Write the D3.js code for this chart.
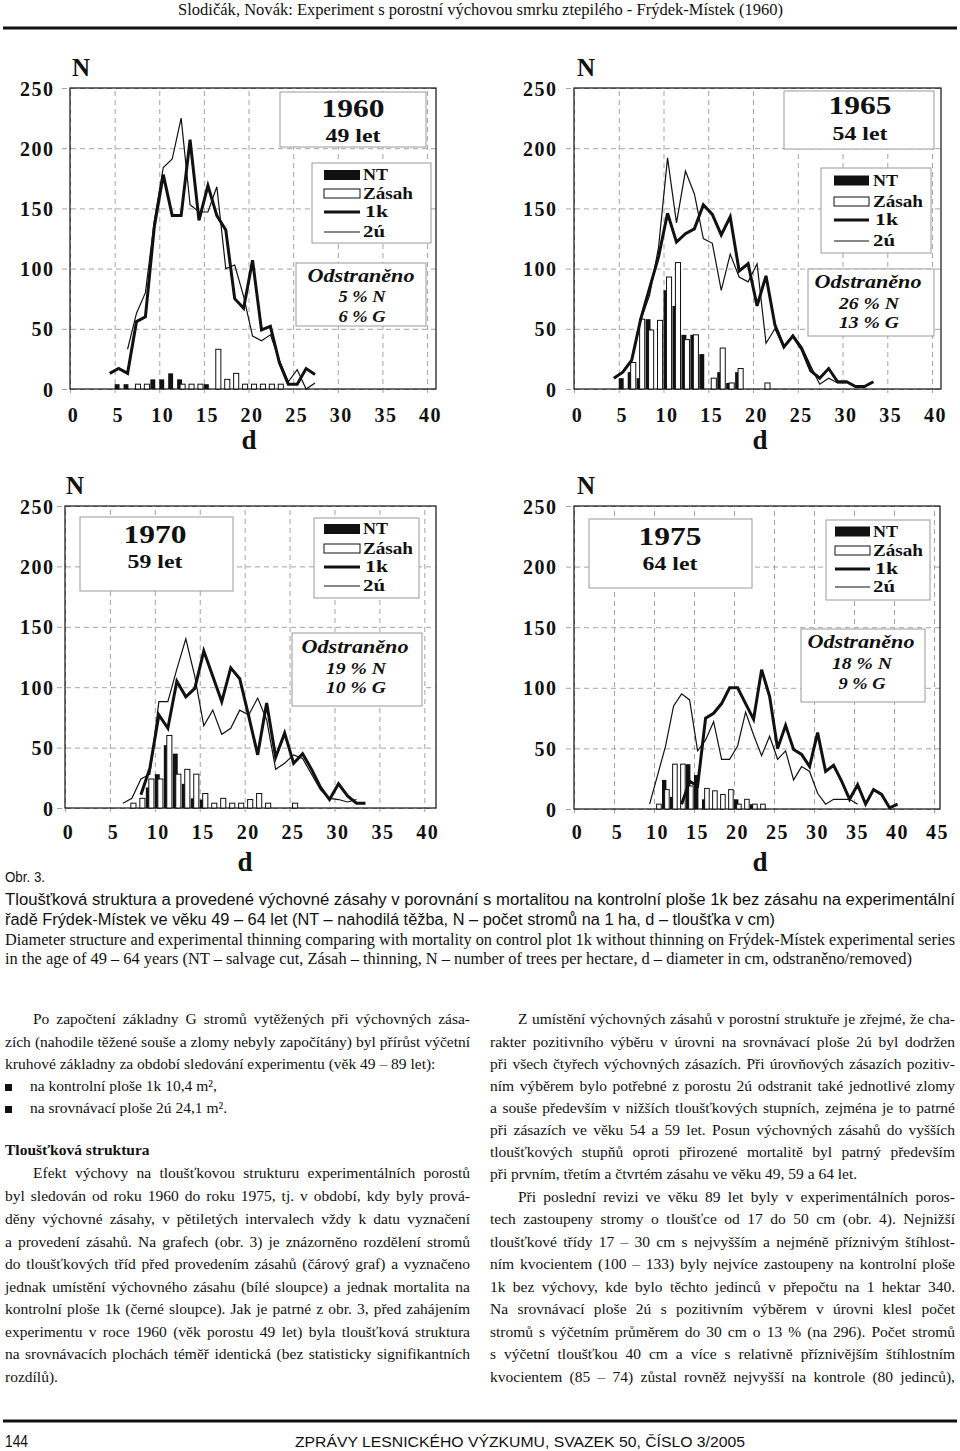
<!DOCTYPE html>
<html><head><meta charset="utf-8">
<script src="https://cdn.jsdelivr.net/npm/d3@7"></script>
<style>body{margin:0;background:#fff}svg{display:block}</style>
</head><body>
<svg id="c" width="960" height="1451"></svg>
<script>
// ---------------- DATA ----------------
const yTicks = [0, 50, 100, 150, 200, 250];
const xTicks40 = [0, 5, 10, 15, 20, 25, 30, 35, 40];
const xTicks45 = [0, 5, 10, 15, 20, 25, 30, 35, 40, 45];

// 1960 (49 let)
const d1k_1960 = [4,5,6,7,8,9,10,11,12,13,14,15,16,17,18,19,20,21,22,23,24,25,26,27];
const n1k_1960 = [13,17,13,56,60,135,178,144,144,207,140,169,144,132,75,67,107,49,52,22,4,4,17,12];
const d2u_1960 = [6,7,8,9,10,11,12,13,14,15,16,17,18,19,20,21,22,23,24,25,26,27];
const n2u_1960 = [33,63,80,140,184,191,225,153,147,147,168,100,103,77,44,40,45,24,6,16,0,5];
const dNT_1960 = [5,6,9,10,11,12,15];
const nNT_1960 = [4,4,8,8,13,8,4];
const dZ_1960 = [7,8,12,13,14,16,17,18,19,20,21,22,23];
const nZ_1960 = [4,4,4,4,4,33,8,13,4,4,4,4,4];

// 1965 (54 let)
const d1k_1965 = [4,5,6,7,8,9,10,11,12,13,14,15,16,17,18,19,20,21,22,23,24,25,26,27,28,29,30,31,32,33];
const n1k_1965 = [9,14,24,58,84,110,146,122,129,133,153,145,128,143,98,104,69,94,53,35,44,33,15,9,17,6,6,2,2,6];
const d2u_1965 = [6,7,8,9,10,11,12,13,14,15,16,17,18,19,20,21,22,23,24,25,26,27,28,29,30];
const n2u_1965 = [25,57,78,118,192,138,181,162,125,121,82,112,93,89,104,38,50,34,45,35,19,4,9,5,5];
const dNT_1965 = [5,6,7,8,10,11,12,13,14,16,17,18];
const nNT_1965 = [9,14,9,58,82,69,45,45,29,14,5,14];
const dZ_1965 = [6,7,8,9,10,11,12,13,15,16,17,18,21];
const nZ_1965 = [22,58,49,57,93,105,41,45,9,34,5,17,5];

// 1970 (59 let)
const d1k_1970 = [8,9,10,11,12,13,14,15,16,17,18,19,20,21,22,23,24,25,26,27,28,29,30,31,32,33];
const n1k_1970 = [11,33,77,66,105,92,99,130,109,88,116,107,76,44,87,42,62,37,45,32,17,7,20,10,4,4];
const d2u_1970 = [6,7,8,9,10,11,12,13,14,15,16,17,18,19,20,21,22,23,24,25,26,27,28,29,30,31,32];
const n2u_1970 = [4,8,24,28,88,88,115,140,109,68,81,61,66,81,77,91,73,32,37,44,41,28,15,8,7,5,7];
const dNT_1970 = [9,10,11,12,13,14,15];
const nNT_1970 = [17,28,52,45,20,8,7];
const dZ_1970 = [7,8,9,10,11,12,13,14,15,16,17,18,19,20,21,22,25];
const nZ_1970 = [4,8,24,24,60,28,32,28,12,4,8,4,4,7,12,4,4];

// 1975 (64 let)
const d1k_1975 = [13,14,15,16,17,18,19,20,21,22,23,24,25,26,27,28,29,30,31,32,33,34,35,36,37,38,39,40];
const n1k_1975 = [4,23,19,75,79,87,100,100,87,74,115,93,50,69,49,45,35,63,31,36,23,8,20,4,16,12,1,4];
const d2u_1975 = [9,10,11,12,13,14,15,16,17,18,19,20,21,22,23,24,25,26,27,28,29,30,31,32,33,34,35];
const n2u_1975 = [4,28,52,85,95,90,48,57,72,41,41,52,80,61,44,60,41,48,24,35,31,13,4,8,8,8,4];
const dNT_1975 = [11,12,14,15,16,20,22];
const nNT_1975 = [24,10,37,28,8,8,4];
const dZ_1975 = [10,11,12,13,14,16,17,18,19,20,21,22,23];
const nZ_1975 = [4,16,37,37,19,17,15,12,16,4,8,4,4];

const years = ["1960", "1965", "1970", "1975"];
const ages = ["49 let", "54 let", "59 let", "64 let"];
const removedN = ["5 % N", "26 % N", "19 % N", "18 % N"];
const removedG = ["6 % G", "13 % G", "10 % G", "9 % G"];
const legendLabels = ["NT", "Zásah", "1k", "2ú"];

// ---------------- HELPERS ----------------
const svg = d3.select('#c');
const SERIF = "'Liberation Serif','Times New Roman',serif";
const SANS = "'Liberation Sans',Arial,sans-serif";
const INK = '#111';

function T(g, x, y, s, o = {}) {
  const t = g.append('text').attr('x', x).attr('y', y).text(s)
    .attr('font-family', o.family || SERIF).attr('font-size', o.size || 16)
    .attr('font-weight', o.weight || 'normal').attr('font-style', o.style || 'normal')
    .attr('text-anchor', o.anchor || 'start').attr('fill', INK);
  if (o.len) t.attr('textLength', o.len).attr('lengthAdjust', 'spacingAndGlyphs');
  return t;
}
const pairs = (ds, ns) => ds.map((d, i) => ({ d, v: ns[i] }));

const LS = 1.5;
const TICKSIZE = 20;
function drawPanel(P, S, k) {
  const g = svg.append('g');
  const x = d3.scaleLinear().domain([0, P.xmax]).range([P.left, P.right]);
  const y = d3.scaleLinear().domain([0, 250]).range([P.bottom, P.top]);
  const W = P.right - P.left, H = P.bottom - P.top;

  const ya = g.append('g').attr('transform', `translate(${P.left},0)`)
    .call(d3.axisLeft(y).tickValues(yTicks).tickSize(-W).tickPadding(0));
  ya.select('.domain').remove();
  ya.attr('font-family', SERIF).attr('font-size', TICKSIZE).attr('font-weight', 'bold');
  ya.selectAll('.tick line').attr('x1', -8).attr('stroke', '#9a9a9a')
    .attr('stroke-dasharray', '5,4').attr('stroke-width', 0.9);
  ya.selectAll('.tick text').attr('x', P.ylabR - P.left + LS).attr('dy', '0.35em')
    .attr('fill', INK).attr('letter-spacing', LS);

  const xa = g.append('g').attr('transform', `translate(0,${P.bottom})`)
    .call(d3.axisBottom(x).tickValues(P.xt).tickSize(-H).tickPadding(0));
  xa.select('.domain').remove();
  xa.attr('font-family', SERIF).attr('font-size', TICKSIZE).attr('font-weight', 'bold');
  xa.selectAll('.tick line').attr('y1', 4).attr('stroke', '#9a9a9a')
    .attr('stroke-dasharray', '5,4').attr('stroke-width', 0.9);
  xa.selectAll('.tick text').attr('y', P.xlabDy).attr('dy', 0).attr('x', 3)
    .attr('fill', INK).attr('letter-spacing', LS);

  g.append('rect').attr('x', P.left).attr('y', P.top).attr('width', W).attr('height', H)
    .attr('fill', 'none').attr('stroke', INK).attr('stroke-width', 1.2);

  // bars
  g.selectAll('rect.nt').data(pairs(S.dNT, S.nNT)).join('rect').attr('class', 'nt')
    .attr('x', d => x(d.d)).attr('width', x(0.55) - x(0))
    .attr('y', d => y(d.v)).attr('height', d => y(0) - y(d.v)).attr('fill', INK);
  g.selectAll('rect.z').data(pairs(S.dZ, S.nZ)).join('rect').attr('class', 'z')
    .attr('x', d => x(d.d + 0.33)).attr('width', x(0.57) - x(0))
    .attr('y', d => y(d.v)).attr('height', d => y(0) - y(d.v))
    .attr('fill', '#fff').attr('stroke', INK).attr('stroke-width', 1);

  const line = d3.line().x(d => x(d.d + 0.45)).y(d => y(d.v));
  g.append('path').datum(pairs(S.d2u, S.n2u)).attr('d', line)
    .attr('fill', 'none').attr('stroke', INK).attr('stroke-width', 1.2);
  g.append('path').datum(pairs(S.d1k, S.n1k)).attr('d', line)
    .attr('fill', 'none').attr('stroke', INK).attr('stroke-width', 3).attr('stroke-linejoin', 'miter');

  // axis titles
  T(g, P.nX, P.nY, 'N', { size: 25, weight: 'bold' });
  T(g, P.dX, P.dY, 'd', { size: 27, weight: 'bold', anchor: 'middle' });

  // boxes
  const box = (b) => g.append('rect').attr('x', b[0]).attr('y', b[1]).attr('width', b[2] - b[0])
    .attr('height', b[3] - b[1]).attr('fill', '#fff').attr('stroke', '#9a9a9a').attr('stroke-width', 1);
  box(P.yb);
  T(g, P.yt[0], P.yt[1], years[k], { size: 25, weight: 'bold', anchor: 'middle', len: 63 });
  T(g, P.yt[0], P.yt[2], ages[k], { size: 19, weight: 'bold', anchor: 'middle', len: 55 });

  box(P.lb);
  const L = P.lg; // [x0, x1, yNT, yZ, y1k, y2u, textX]
  g.append('rect').attr('x', L[0]).attr('y', L[2] - 5).attr('width', L[1] - L[0]).attr('height', 10).attr('fill', INK);
  g.append('rect').attr('x', L[0]).attr('y', L[3] - 4.5).attr('width', L[1] - L[0]).attr('height', 9)
    .attr('fill', '#fff').attr('stroke', INK).attr('stroke-width', 1);
  g.append('line').attr('x1', L[0]).attr('x2', L[1]).attr('y1', L[4]).attr('y2', L[4]).attr('stroke', INK).attr('stroke-width', 3);
  g.append('line').attr('x1', L[0]).attr('x2', L[1]).attr('y1', L[5]).attr('y2', L[5]).attr('stroke', INK).attr('stroke-width', 1.2);
  T(g, L[6], L[2] + 5, legendLabels[0], { size: 16, weight: 'bold', len: 25 });
  T(g, L[6], L[3] + 5, legendLabels[1], { size: 16, weight: 'bold', len: 50 });
  T(g, L[6] + 2, L[4] + 5, legendLabels[2], { size: 16, weight: 'bold', len: 23 });
  T(g, L[6], L[5] + 5, legendLabels[3], { size: 16, weight: 'bold', len: 22 });

  box(P.ob);
  const O = P.ot; // [cx, y1, y2, y3]
  T(g, O[0], O[1], 'Odstraněno', { size: 19, weight: 'bold', style: 'italic', anchor: 'middle', len: 107 });
  T(g, O[0] + 1, O[2], removedN[k], { size: 16, weight: 'bold', style: 'italic', anchor: 'middle', len: removedN[k].length > 5 ? 60 : 47 });
  T(g, O[0] + 1, O[3], removedG[k], { size: 16, weight: 'bold', style: 'italic', anchor: 'middle', len: removedG[k].length > 5 ? 60 : 47 });
}

const panels = [
  { left: 70, right: 436, top: 88, bottom: 389, xmax: 41, xt: xTicks40, ylabR: 53, xlabDy: 33,
    nX: 72, nY: 76, dX: 249, dY: 449,
    yb: [280, 92, 426, 147], yt: [353, 117, 142],
    lb: [312, 163, 431, 243], lg: [324, 360, 175, 193.5, 212, 232, 363],
    ob: [296, 263, 426, 326], ot: [361, 282, 302, 322] },
  { left: 574, right: 941, top: 88, bottom: 389, xmax: 41, xt: xTicks40, ylabR: 556, xlabDy: 33,
    nX: 577, nY: 76, dX: 760, dY: 449,
    yb: [784, 91, 934, 149], yt: [860, 114, 140],
    lb: [821, 168, 931, 253], lg: [834, 869, 180.5, 201.5, 220, 241, 873],
    ob: [808, 269, 934, 336], ot: [868, 288, 309, 328] },
  { left: 65, right: 436, top: 506, bottom: 808, xmax: 41.3, xt: xTicks40, ylabR: 53, xlabDy: 31,
    nX: 66, nY: 494, dX: 245, dY: 871,
    yb: [80, 517, 233, 591], yt: [155, 543, 568],
    lb: [314, 518, 419, 598], lg: [324, 360, 529, 548.5, 567, 586, 363],
    ob: [292, 633, 422, 706], ot: [355, 653, 674, 693] },
  { left: 574, right: 940, top: 506, bottom: 809, xmax: 45.75, xt: xTicks45, ylabR: 556, xlabDy: 30,
    nX: 577, nY: 494, dX: 760, dY: 871,
    yb: [589, 519, 752, 588], yt: [670, 545, 570],
    lb: [826, 520, 930, 600], lg: [835, 870, 531.5, 550.5, 569, 587, 873],
    ob: [801, 629, 925, 702], ot: [861, 648, 669, 689] }
];
const series = [
  { d1k: d1k_1960, n1k: n1k_1960, d2u: d2u_1960, n2u: n2u_1960, dNT: dNT_1960, nNT: nNT_1960, dZ: dZ_1960, nZ: nZ_1960 },
  { d1k: d1k_1965, n1k: n1k_1965, d2u: d2u_1965, n2u: n2u_1965, dNT: dNT_1965, nNT: nNT_1965, dZ: dZ_1965, nZ: nZ_1965 },
  { d1k: d1k_1970, n1k: n1k_1970, d2u: d2u_1970, n2u: n2u_1970, dNT: dNT_1970, nNT: nNT_1970, dZ: dZ_1970, nZ: nZ_1970 },
  { d1k: d1k_1975, n1k: n1k_1975, d2u: d2u_1975, n2u: n2u_1975, dNT: dNT_1975, nNT: nNT_1975, dZ: dZ_1975, nZ: nZ_1975 }
];
panels.forEach((P, k) => drawPanel(P, series[k], k));

// ---------------- PAGE TEXT ----------------
T(svg, 178, 15, 'Slodičák, Novák: Experiment s porostní výchovou smrku ztepilého - Frýdek-Místek (1960)', { size: 17, len: 605 });
svg.append('line').attr('x1', 3).attr('x2', 957).attr('y1', 28).attr('y2', 28).attr('stroke', INK).attr('stroke-width', 3);

T(svg, 5, 882, 'Obr. 3.', { family: SANS, size: 15, len: 40 });
T(svg, 5, 905, 'Tloušťková struktura a provedené výchovné zásahy v porovnání s mortalitou na kontrolní ploše 1k bez zásahu na experimentální', { family: SANS, size: 16, len: 950 });
T(svg, 5, 925, 'řadě Frýdek-Místek ve věku 49 – 64 let (NT – nahodilá těžba, N – počet stromů na 1 ha, d – tloušťka v cm)', { family: SANS, size: 16, len: 770 });
T(svg, 5, 945, 'Diameter structure and experimental thinning comparing with mortality on control plot 1k without thinning on Frýdek-Místek experimental series', { size: 16, len: 950 });
T(svg, 5, 964, 'in the age of 49 – 64 years (NT – salvage cut, Zásah – thinning, N – number of trees per hectare, d – diameter in cm, odstraněno/removed)', { size: 16, len: 907 });

// body text (justified)
const BODY = 15.5;
const meas = svg.append('text').attr('font-family', SERIF).attr('font-size', BODY).attr('visibility', 'hidden');
function wd(s, weight) { meas.attr('font-weight', weight || 'normal').text(s); return meas.node().getComputedTextLength(); }
function para(x0, x1, yc, s, just, weight) {
  const y = yc + 5;
  if (!just) { T(svg, x0, y, s, { size: BODY, weight }); return; }
  const words = s.split(' ');
  const ws = words.map(w => wd(w, weight));
  const tot = d3.sum(ws);
  const gap = (x1 - x0 - tot) / (words.length - 1);
  if (gap < 2.2) { T(svg, x0, y, s, { size: BODY, weight, len: x1 - x0 }); return; }
  let cx = x0;
  words.forEach((w, i) => { T(svg, cx, y, w, { size: BODY, weight }); cx += ws[i] + gap; });
}
const leftCol = [
  [33, 1019, 'Po započtení základny G stromů vytěžených při výchovných zása-', 1],
  [5, 1042, 'zích (nahodile těžené souše a zlomy nebyly započítány) byl přírůst výčetní', 1],
  [5, 1064, 'kruhové základny za období sledování experimentu (věk 49 – 89 let):', 0],
  [30, 1086, 'na kontrolní ploše 1k 10,4 m², ', 0],
  [30, 1108, 'na srovnávací ploše 2ú 24,1 m².', 0],
  [33, 1173, 'Efekt výchovy na tloušťkovou strukturu experimentálních porostů', 1],
  [5, 1196, 'byl sledován od roku 1960 do roku 1975, tj. v období, kdy byly prová-', 1],
  [5, 1219, 'děny výchovné zásahy, v pětiletých intervalech vždy k datu vyznačení', 1],
  [5, 1242, 'a provedení zásahů. Na grafech (obr. 3) je znázorněno rozdělení stromů', 1],
  [5, 1264, 'do tloušťkových tříd před provedením zásahů (čárový graf) a vyznačeno', 1],
  [5, 1287, 'jednak umístění výchovného zásahu (bílé sloupce) a jednak mortalita na', 1],
  [5, 1309, 'kontrolní ploše 1k (černé sloupce). Jak je patrné z obr. 3, před zahájením', 1],
  [5, 1332, 'experimentu v roce 1960 (věk porostu 49 let) byla tloušťková struktura', 1],
  [5, 1354, 'na srovnávacích plochách téměř identická (bez statisticky signifikantních', 1],
  [5, 1377, 'rozdílů).', 0]
];
leftCol.forEach(l => para(l[0], 470, l[1], l[2], l[3]));
para(5, 470, 1150, 'Tloušťková struktura', 0, 'bold');
[1086, 1108].forEach(yc => svg.append('rect').attr('x', 5).attr('y', yc - 2).attr('width', 7).attr('height', 7).attr('fill', INK));

const rightCol = [
  [518, 1019, 'Z umístění výchovných zásahů v porostní struktuře je zřejmé, že cha-', 1],
  [490, 1042, 'rakter pozitivního výběru v úrovni na srovnávací ploše 2ú byl dodržen', 1],
  [490, 1064, 'při všech čtyřech výchovných zásazích. Při úrovňových zásazích pozitiv-', 1],
  [490, 1086, 'ním výběrem bylo potřebné z porostu 2ú odstranit také jednotlivé zlomy', 1],
  [490, 1108, 'a souše především v nižších tloušťkových stupních, zejména je to patrné', 1],
  [490, 1130, 'při zásazích ve věku 54 a 59 let. Posun výchovných zásahů do vyšších', 1],
  [490, 1152, 'tloušťkových stupňů oproti přirozené mortalitě byl patrný především', 1],
  [490, 1174, 'při prvním, třetím a čtvrtém zásahu ve věku 49, 59 a 64 let.', 0],
  [518, 1197, 'Při poslední revizi ve věku 89 let byly v experimentálních poros-', 1],
  [490, 1219, 'tech zastoupeny stromy o tloušťce od 17 do 50 cm (obr. 4). Nejnižší', 1],
  [490, 1242, 'tloušťkové třídy 17 – 30 cm s nejvyšším a nejméně příznivým štíhlost-', 1],
  [490, 1264, 'ním kvocientem (100 – 133) byly nejvíce zastoupeny na kontrolní ploše', 1],
  [490, 1287, '1k bez výchovy, kde bylo těchto jedinců v přepočtu na 1 hektar 340.', 1],
  [490, 1309, 'Na srovnávací ploše 2ú s pozitivním výběrem v úrovni klesl počet', 1],
  [490, 1332, 'stromů s výčetním průměrem do 30 cm o 13 % (na 296). Počet stromů', 1],
  [490, 1354, 's výčetní tloušťkou 40 cm a více s relativně příznivějším štíhlostním', 1],
  [490, 1377, 'kvocientem (85 – 74) zůstal rovněž nejvyšší na kontrole (80 jedinců),', 1]
];
rightCol.forEach(l => para(l[0], 955, l[1], l[2], l[3]));

// footer
svg.append('line').attr('x1', 3).attr('x2', 957).attr('y1', 1421).attr('y2', 1421).attr('stroke', INK).attr('stroke-width', 3);
T(svg, 5, 1447, '144', { family: SANS, size: 16, len: 23 });
T(svg, 295, 1447, 'ZPRÁVY LESNICKÉHO VÝZKUMU, SVAZEK 50, ČÍSLO 3/2005', { family: SANS, size: 14, len: 450 });
meas.remove();
</script>
</body></html>
